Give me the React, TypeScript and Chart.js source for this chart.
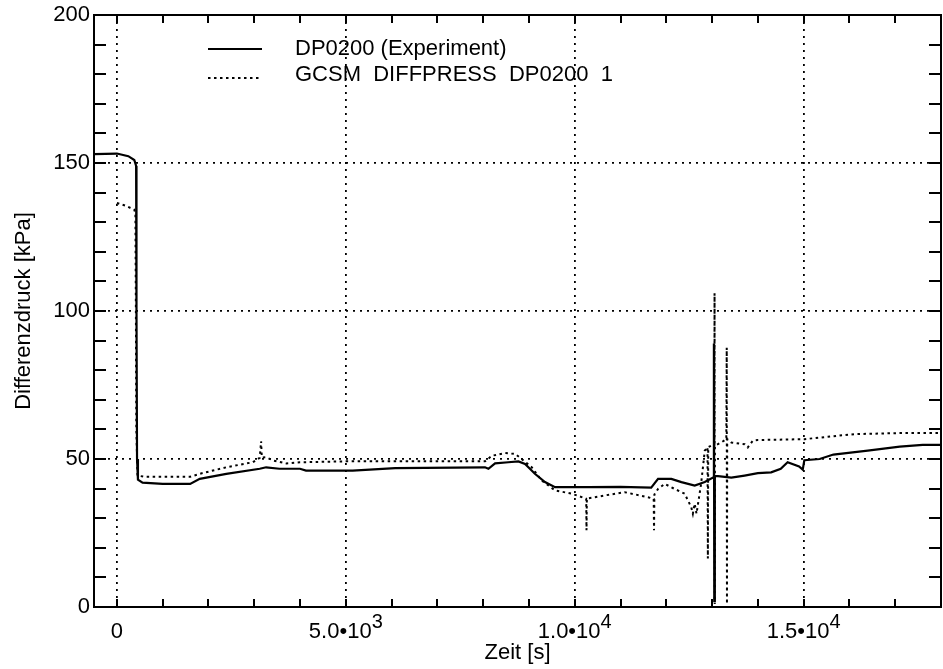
import React, { useEffect, useRef } from 'react';
import { Chart, registerables } from 'chart.js';

Chart.register(...registerables);

const FONT = '"Liberation Sans", Arial, Helvetica, sans-serif';

// Experiment (solid)
const expX = [-500, 0, 250, 380, 420, 428, 440, 460, 560, 1000, 1600, 1810, 2390, 3120, 3260, 3550, 4000, 4130, 5150, 6080, 8040, 8115, 8260, 8550, 8770, 8915, 9130, 9350, 9570, 10300, 11000, 11670, 11820, 12110, 12330, 12620, 12840, 13030, 13040, 13048, 13060, 13130, 13420, 13710, 14000, 14290, 14500, 14650, 14900, 14980, 15015, 15350, 15650, 16400, 17100, 17600, 18000];
const expY = [153, 153.2, 152.3, 151, 149, 100, 50, 43, 42, 41.6, 41.6, 43.3, 45, 46.7, 47.2, 46.7, 46.7, 46.1, 46.1, 46.9, 47.2, 46.7, 48.5, 48.9, 49.2, 48.3, 45, 42.2, 40.5, 40.5, 40.6, 40.3, 43.3, 43.3, 42.2, 41, 42.2, 43.8, 89, 2, 44.2, 44.2, 43.7, 44.4, 45.2, 45.5, 46.7, 48.9, 47.5, 46.4, 49.6, 50, 51.5, 52.8, 54.2, 54.8, 54.8];

// Simulation GCSM (dotted)
const simX = [0, 200, 380, 405, 415, 425, 450, 600, 1600, 1810, 2390, 2970, 3120, 3150, 3165, 3260, 3410, 3700, 4000, 5000, 8040, 8190, 8480, 8700, 8840, 9060, 9280, 9570, 9930, 10250, 10257, 10265, 10660, 11090, 11600, 11725, 11732, 11740, 11820, 11965, 12180, 12400, 12545, 12580, 12620, 12660, 12760, 12840, 12900, 12908, 12916, 12980, 13050, 13054, 13058, 13062, 13200, 13310, 13320, 13325, 13330, 13420, 13710, 13780, 13890, 14000, 15015, 16100, 17200, 18000];
const simY = [136.5, 135.5, 134.2, 133, 100, 60, 44.4, 44, 44, 45, 47.2, 48.9, 50.4, 56, 50.5, 50.6, 49.5, 48.5, 48.9, 49.2, 49.2, 51.1, 52, 51.7, 50, 47.2, 42.7, 39.4, 38.3, 36.6, 25.9, 36.6, 37.7, 38.8, 37.1, 36.5, 25.9, 38, 39.9, 41.6, 39.9, 38.3, 33.7, 31.5, 34.9, 31.5, 41.6, 52.8, 54, 16.4, 54, 54.5, 54.5, 106, 1, 54.5, 55.6, 56.7, 87.6, 1, 56.7, 55.6, 55, 53.9, 56.2, 56.4, 56.7, 58.4, 58.8, 58.8];

const seriesLabels = ['DP0200 (Experiment)', 'GCSM  DIFFPRESS  DP0200  1'];

const xTickValues = [0, 1000, 2000, 3000, 4000, 5000, 6000, 7000, 8000, 9000, 10000, 11000, 12000, 13000, 14000, 15000, 16000, 17000, 18000];
const xMajorValues = [0, 5000, 10000, 15000];
const xLabelBase = ['0', '5.0\u202210', '1.0\u202210', '1.5\u202210'];
const xLabelExp = ['', '3', '4', '4'];

const yTickValues = [0, 10, 20, 30, 40, 50, 60, 70, 80, 90, 100, 110, 120, 130, 140, 150, 160, 170, 180, 190, 200];
const yMajorValues = [50, 100, 150];
const yLabelValues = [0, 50, 100, 150, 200];

const xTitle = 'Zeit [s]';
const yTitle = 'Differenzdruck [kPa]';

const decorPlugin = {
  id: 'decor',
  afterDraw(chart: any) {
    const { ctx, chartArea: a, scales } = chart;
    const xs = scales.x;
    const ys = scales.y;
    const top = a.top;
    const bottom = a.bottom;
    const left = a.left;
    const right = a.right;
    ctx.save();
    ctx.strokeStyle = '#000000';
    ctx.setLineDash([]);
    ctx.lineWidth = 2;
    ctx.beginPath();
    for (let i = 0; i < xTickValues.length; i++) {
      const px = Math.round(xs.getPixelForValue(xTickValues[i]));
      ctx.moveTo(px, bottom);
      ctx.lineTo(px, bottom - 8);
      ctx.moveTo(px, top);
      ctx.lineTo(px, top + 8);
    }
    for (let i = 0; i < yTickValues.length; i++) {
      const py = Math.round(ys.getPixelForValue(yTickValues[i]));
      ctx.moveTo(left, py);
      ctx.lineTo(left + 12, py);
      ctx.moveTo(right, py);
      ctx.lineTo(right - 12, py);
    }
    ctx.stroke();
    ctx.strokeRect(left, top, right - left, bottom - top);

    // x tick labels with superscripts
    ctx.fillStyle = '#000';
    ctx.textBaseline = 'alphabetic';
    ctx.textAlign = 'left';
    xMajorValues.forEach((v, i) => {
      const px = xs.getPixelForValue(v);
      ctx.font = `22px ${FONT}`;
      const wb = ctx.measureText(xLabelBase[i]).width;
      ctx.font = `20px ${FONT}`;
      const we = xLabelExp[i] ? ctx.measureText(xLabelExp[i]).width : 0;
      const start = px - (wb + we) / 2;
      ctx.font = `22px ${FONT}`;
      ctx.fillText(xLabelBase[i], start, bottom + 31);
      if (xLabelExp[i]) {
        ctx.font = `20px ${FONT}`;
        ctx.fillText(xLabelExp[i], start + wb, bottom + 21);
      }
    });

    // legend
    const ds = chart.data.datasets;
    const rows = [top + 34, top + 60];
    ds.forEach((d: any, i: number) => {
      const y = rows[i];
      ctx.beginPath();
      ctx.lineWidth = d.borderWidth;
      ctx.setLineDash(d.borderDash || []);
      const ly = i === 1 ? y + 3 : y;
      ctx.moveTo(left + 114, ly);
      ctx.lineTo(left + 168, ly);
      ctx.stroke();
      ctx.setLineDash([]);
      ctx.font = `22px ${FONT}`;
      ctx.textBaseline = 'middle';
      ctx.fillText(d.label, left + 201, y);
    });
    ctx.restore();
  },
};

export default function App() {
  const ref = useRef<HTMLCanvasElement | null>(null);
  useEffect(() => {
    if (!ref.current) return;
    const chart = new Chart(ref.current, {
      type: 'scatter',
      data: {
        datasets: [
          {
            label: seriesLabels[0],
            data: expX.map((x, i) => ({ x, y: expY[i] })),
            showLine: true,
            borderColor: '#000',
            borderWidth: 2.2,
            pointRadius: 0,
            tension: 0,
          },
          {
            label: seriesLabels[1],
            data: simX.map((x, i) => ({ x, y: simY[i] })),
            showLine: true,
            borderColor: '#000',
            borderWidth: 2,
            borderDash: [2.5, 3.5],
            pointRadius: 0,
            tension: 0,
          },
        ],
      },
      options: {
        animation: false,
        responsive: false,
        layout: { padding: { top: 12, right: 2, left: 0, bottom: 0 } },
        plugins: { legend: { display: false }, tooltip: { enabled: false } },
        scales: {
          x: {
            type: 'linear',
            min: -500,
            max: 18000,
            afterBuildTicks: (s: any) => { s.ticks = xMajorValues.map((value) => ({ value })); },
            afterFit: (s: any) => { s.height = 62; },
            ticks: { display: true, autoSkip: false, callback: () => '', font: { size: 1 }, padding: 0 },
            grid: { drawTicks: false, lineWidth: 1.8, color: '#000' },
            border: { display: false, dash: [2, 5] },
            title: {
              display: true,
              text: xTitle,
              color: '#000',
              font: { family: FONT, size: 22 },
              padding: { top: 0, bottom: 3 },
            },
          },
          y: {
            type: 'linear',
            min: 0,
            max: 200,
            afterBuildTicks: (s: any) => { s.ticks = yLabelValues.map((value) => ({ value })); },
            afterFit: (s: any) => { s.width = 94; },
            ticks: {
              autoSkip: false,
              padding: 4,
              color: '#000',
              font: { family: FONT, size: 22, lineHeight: 1 },
              callback: (v: any) => String(v),
            },
            grid: {
              drawTicks: false,
              lineWidth: 1.8,
              color: (c: any) => (c.tick && yMajorValues.includes(c.tick.value) ? '#000' : 'rgba(0,0,0,0)'),
            },
            border: { display: false, dash: [2, 5] },
            title: {
              display: true,
              text: yTitle,
              color: '#000',
              font: { family: FONT, size: 22 },
              padding: { top: 11, bottom: 0 },
            },
          },
        },
      },
      plugins: [decorPlugin],
    } as any);
    return () => chart.destroy();
  }, []);
  return (
    <div style={{ position: 'absolute', left: 0, top: 0, width: 943, height: 669, background: '#fff' }}>
      <canvas ref={ref} width={943} height={669} style={{ display: 'block' }} />
    </div>
  );
}
